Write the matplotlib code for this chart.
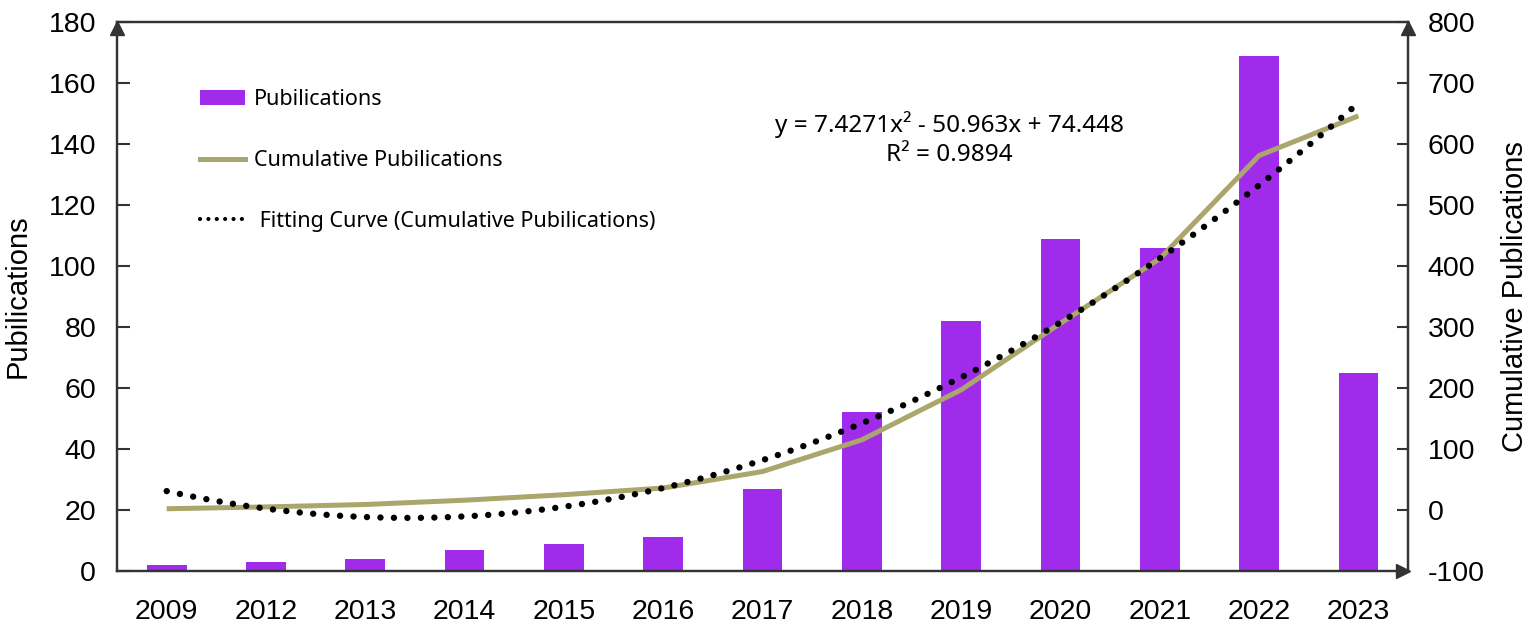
import numpy as np
import matplotlib
matplotlib.use("Agg")
import matplotlib.pyplot as plt
from matplotlib.patches import Patch
from matplotlib.lines import Line2D

# data
years = ["2009", "2012", "2013", "2014", "2015", "2016", "2017",
         "2018", "2019", "2020", "2021", "2022", "2023"]
publications = [2, 3, 4, 7, 9, 11, 27, 52, 82, 109, 106, 169, 65]
cumulative = [2, 5, 9, 16, 25, 36, 63, 115, 197, 306, 412, 581, 646]
# quadratic trendline shown on the chart: y = a*x^2 + b*x + c, x = 1..13
fit_coef = [7.4271, -50.963, 74.448]
r_squared = 0.9894

bar_color = "#A12BEB"
line_color = "#ABA66B"
spine_color = "#333333"

plt.rcParams["font.family"] = ["Liberation Sans", "DejaVu Sans"]
plt.rcParams["axes.unicode_minus"] = False

fig = plt.figure(figsize=(15.36, 6.26), dpi=100)
ax = fig.add_axes([0.0762, 0.0879, 0.8405, 0.877])
ax2 = ax.twinx()

x = np.arange(len(years))
ax.bar(x, publications, width=0.4, color=bar_color, zorder=2)

# cumulative line and fitting curve on the right axis
ax2.plot(x, cumulative, color=line_color, lw=3.6, solid_capstyle="butt", zorder=3)
xf = np.linspace(0, len(years) - 1, 300)
yf = np.polyval(fit_coef, xf + 1)
ax2.plot(xf, yf, color="black", lw=4.6, linestyle=(0, (0.01, 2.1)),
         dash_capstyle="round", zorder=4)

ax.set_xlim(-0.5, len(years) - 0.5)
ax.set_ylim(0, 180)
ax2.set_ylim(-100, 800)
ax.set_yticks(np.arange(0, 181, 20))
ax2.set_yticks(np.arange(-100, 801, 100))
ax.set_xticks(x)
ax.set_xticklabels(years)

ax.tick_params(axis="y", direction="in", length=9, width=1.5, color=spine_color,
               labelsize=20.5, pad=15)
ax2.tick_params(axis="y", direction="in", length=8, width=1.5, color=spine_color,
                labelsize=20.5, pad=14)
ax.tick_params(axis="x", length=0, labelsize=20.5, pad=20)

for a in (ax, ax2):
    for s in a.spines.values():
        s.set_color(spine_color)
        s.set_linewidth(1.6)

ax.set_ylabel("Pubilications", fontsize=21, labelpad=12)
ax2.set_ylabel("Cumulative Publications", fontsize=21, labelpad=12)

# arrow heads on the axes
ax.plot([0], [0.989], marker="^", ms=10, color=spine_color, transform=ax.transAxes, clip_on=False)
ax.plot([1], [0.989], marker="^", ms=10, color=spine_color, transform=ax.transAxes, clip_on=False)
ax.plot([0.996], [0], marker=">", ms=10, color=spine_color, transform=ax.transAxes, clip_on=False)

handles = [
    Patch(facecolor=bar_color, edgecolor="none"),
    Line2D([], [], color=line_color, lw=3.6),
    Line2D([], [], color="black", lw=3, linestyle=(0, (0.01, 2.0)), dash_capstyle="round"),
]
labels = ["Pubilications", "Cumulative Pubilications", " Fitting Curve (Cumulative Pubilications)"]
ax2.legend(handles, labels, loc="upper left", bbox_to_anchor=(0.064, 0.877),
           frameon=False, borderpad=0, borderaxespad=0, handlelength=2.1,
           handletextpad=0.42, labelspacing=1.84,
           prop={"family": ["Noto Sans", "DejaVu Sans"], "size": 15.5})

eq = "y = %.4fx\u00b2 - %.3fx + %.3f\nR\u00b2 = %.4f" % (fit_coef[0], -fit_coef[1], fit_coef[2], r_squared)
ax2.text(0.645, 0.787, eq, transform=ax2.transAxes, ha="center", va="center",
         multialignment="center", fontsize=17.5, linespacing=1.3,
         family=["Noto Sans", "DejaVu Sans"])

fig.savefig("out.png", dpi=100)
